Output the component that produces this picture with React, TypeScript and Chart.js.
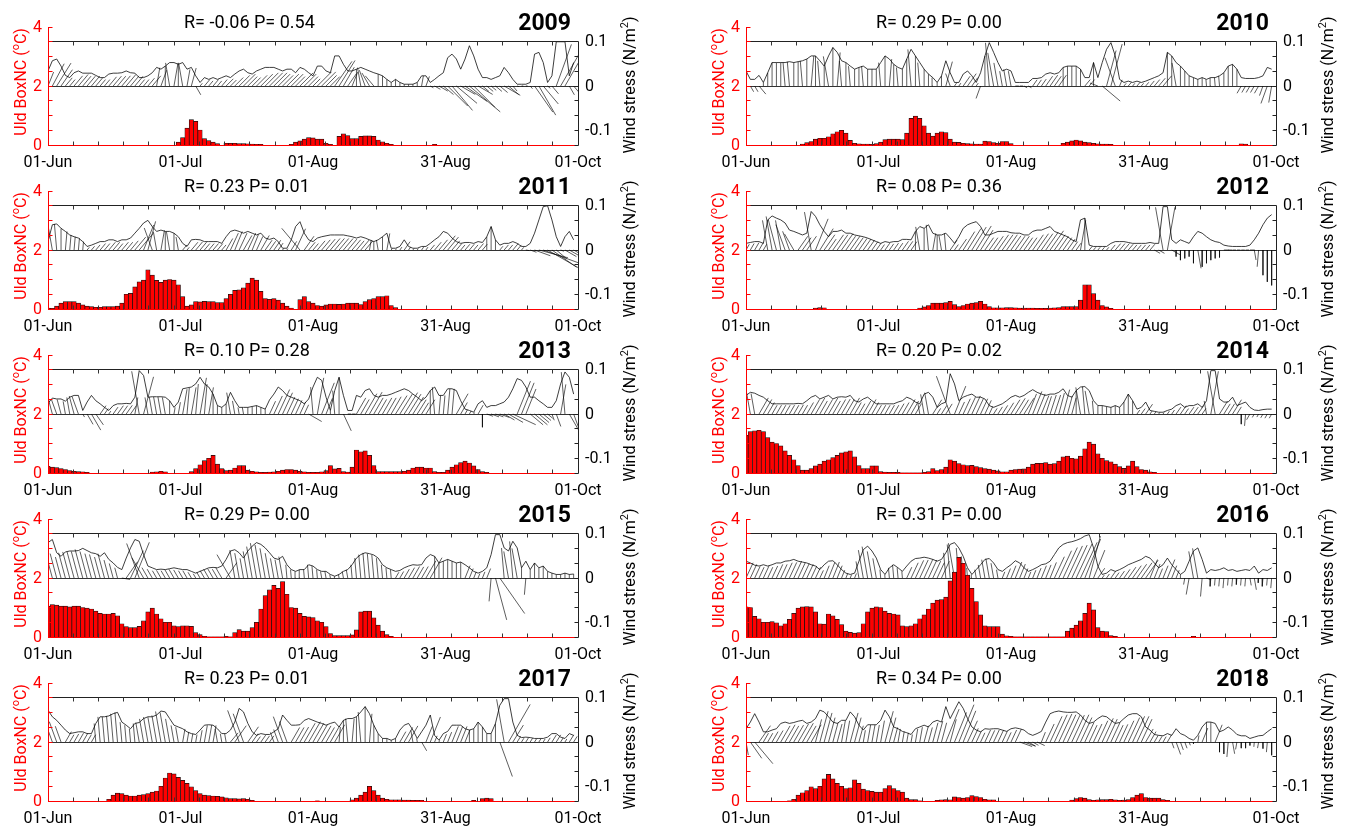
import React, { useEffect, useRef } from "react";
import { Chart, registerables } from "chart.js";

Chart.register(...registerables);

// ---------------- axis / label data ----------------
const N_DAYS = 122; // 01-Jun .. 30-Sep, daily
const dateTickDays = [0, 30.5, 61, 91.5, 122];
const dateTickLabels = ["01-Jun", "01-Jul", "01-Aug", "31-Aug", "01-Oct"];
const uiTickValues = [0, 2, 4];
const windTickValues = [-0.1, 0, 0.1];
const windTickLabels = ["-0.1", "0", "0.1"];
const years = [2009, 2010, 2011, 2012, 2013, 2014, 2015, 2016, 2017, 2018];
const statLabels = [
  "R= -0.06 P= 0.54", "R= 0.29 P= 0.00",
  "R= 0.23 P= 0.01", "R= 0.08 P= 0.36",
  "R= 0.10 P= 0.28", "R= 0.20 P= 0.02",
  "R= 0.29 P= 0.00", "R= 0.31 P= 0.00",
  "R= 0.23 P= 0.01", "R= 0.34 P= 0.00",
];

// ---------------- series data ----------------
// ui*: daily UI BoxNC (°C); tau*: wind stress magnitude (x0.01 N/m²); dir*: stress direction (deg, 90 = up)
const ui2009 = [
  0,0,0,0,0,0,0,0,0,0,
  0,0,0,0,0,0,0,0,0,0,
  0,0,0,0,0,0,0,0,0,0,
  0.1,0.25,0.57,0.86,0.8,0.51,0.22,0.15,0.1,0.05,
  0,0.06,0.06,0.06,0.05,0.05,0.04,0.03,0.02,0.02,
  0,0,0,0,0,0,0.02,0.1,0.14,0.2,
  0.25,0.24,0.2,0.2,0.06,0.02,0,0.29,0.38,0.32,
  0.22,0.22,0.29,0.31,0.31,0.29,0.17,0.11,0.06,0.02,
  0,0,0,0,0,0,0,0,0,0.02,
  0,0,0,0,0,0,0,0,0,0,
  0,0,0,0,0,0,0,0,0,0,
  0,0,0,0,0,0,0,0,0,0,
  0,0];
const tau2009 = [
  3.4,5.7,6.1,4.5,2.4,1.9,3.0,3.4,2.9,2.9,
  2.9,2.4,1.9,1.9,2.7,2.9,2.9,3.0,3.4,3.0,
  2.9,1.9,1.9,2.3,3.0,4.2,3.8,4.5,5.3,5.3,
  4.9,5.3,3.8,4.2,2.3,0.8,1.9,1.5,1.9,1.5,
  1.9,2.3,1.9,2.7,3.4,3.8,3.0,2.7,3.4,3.8,
  4.2,4.2,4.2,3.8,3.4,3.8,3.8,3.0,4.2,3.8,
  3.0,2.3,4.5,4.5,3.4,3.0,6.8,6.8,4.9,3.4,
  3.4,3.8,4.2,3.8,3.4,3.0,2.7,2.3,1.5,0.8,
  1.5,0.8,0.4,0.4,0.4,0.8,2.3,2.3,0.8,1.5,
  2.3,3.0,6.4,7.2,6.1,3.8,6.1,9.1,6.8,3.8,
  1.9,1.9,1.5,1.9,2.3,4.2,3.0,1.5,0.4,0.4,
  0.4,0.8,7.2,7.6,5.3,0.8,2.3,10,10,10,
  2.3,5.3];
const dir2009 = [
  68,62,58,55,50,50,50,50,50,50,
  50,50,50,50,50,50,50,50,50,50,
  50,50,50,50,50,80,70,90,100,80,
  90,100,80,75,-60,50,50,50,50,50,
  50,45,45,45,45,45,45,45,45,45,
  45,45,45,45,45,45,45,45,45,45,
  45,45,45,45,45,45,55,58,60,55,
  68,90,100,110,120,130,90,90,90,90,
  90,90,90,90,90,90,80,70,-30,-30,
  -30,-40,-45,-50,-40,-30,-35,-40,-45,-30,
  -40,-40,-40,-40,-40,-30,-40,-50,-20,0,
  0,-50,-55,-60,-50,-40,-50,70,60,60,
  -60,-50];

const ui2010 = [
  0,0,0,0,0,0,0,0,0,0,
  0,0,0,0.03,0.08,0.12,0.2,0.23,0.23,0.28,
  0.38,0.45,0.5,0.4,0.16,0.06,0.04,0.03,0.03,0.02,
  0.05,0.1,0.18,0.2,0.2,0.2,0.18,0.4,0.9,0.98,
  0.9,0.65,0.4,0.3,0.4,0.45,0.42,0.2,0.1,0.09,
  0.06,0.05,0.04,0.03,0.03,0.13,0.12,0.08,0.06,0.12,
  0.12,0.05,0,0,0,0,0,0,0,0,
  0,0,0,0.06,0.1,0.14,0.17,0.14,0.1,0.08,
  0.06,0.04,0.03,0.03,0.02,0,0,0,0,0,
  0,0,0,0,0,0,0,0,0,0,
  0,0,0,0,0,0,0,0,0,0,
  0,0,0,0,0.04,0.03,0,0,0,0,
  0,0];
const tau2010 = [
  3.4,1.5,1.5,2.4,0.8,3.0,5.3,5.3,5.3,5.3,
  5.5,5.3,5.5,5.7,6.1,6.8,6.8,5.7,4.5,6.8,
  8.7,7.6,5.7,5.3,4.5,3.8,4.2,4.5,3.8,3.8,
  3.8,5.3,6.8,6.1,4.9,4.2,3.8,6.1,8.3,6.8,
  5.3,3.8,2.7,1.9,0.8,2.3,5.7,3.0,0.8,0.8,
  2.7,3.4,2.3,0.8,3.0,6.8,9.8,7.6,5.3,3.4,
  3.8,3.4,0.8,0.8,0.8,0.8,1.7,1.7,1.9,2.7,
  3.0,2.7,3.0,4.2,4.5,4.5,4.5,3.8,1.9,1.9,
  5.3,1.9,5.3,8.3,9.8,6.8,1.5,0.8,1.1,0.8,
  1.1,0.8,1.1,1.5,1.9,2.3,3.0,7.6,6.8,5.3,
  4.5,3.4,2.3,1.9,1.5,1.9,1.5,1.9,1.9,2.3,
  3.0,4.5,4.9,3.8,1.9,1.7,1.7,1.7,1.9,2.3,
  4.2,3.8];
const dir2010 = [
  90,-60,-60,-50,90,90,90,90,90,95,
  95,90,90,95,90,85,90,95,90,100,
  90,85,95,90,95,90,90,95,90,90,
  90,95,90,85,90,95,90,90,95,90,
  95,90,90,95,90,90,75,110,55,55,
  55,55,55,55,-110,90,95,100,100,100,
  100,100,0,0,-30,-30,55,55,55,55,
  55,55,55,90,90,90,90,90,50,50,
  90,160,-40,75,75,110,68,50,50,50,
  50,50,50,50,50,50,50,90,90,100,
  90,90,90,90,90,90,95,95,95,95,
  90,90,90,90,-120,-120,-120,-120,-120,-110,
  -110,-100];

const ui2011 = [
  0.03,0.02,0.1,0.2,0.25,0.25,0.25,0.2,0.14,0.1,
  0.08,0.06,0.06,0.08,0.08,0.08,0.1,0.2,0.5,0.53,
  0.75,0.92,0.98,1.33,1.15,0.97,0.9,0.98,1.0,0.98,
  0.82,0.42,0.1,0.14,0.25,0.24,0.26,0.25,0.25,0.22,
  0.22,0.35,0.5,0.63,0.65,0.72,0.88,1.05,0.98,0.6,
  0.35,0.33,0.35,0.3,0.2,0.1,0.03,0,0.32,0.42,
  0.25,0.2,0.12,0.1,0.14,0.17,0.17,0.16,0.17,0.2,
  0.2,0.2,0.15,0.25,0.32,0.35,0.42,0.42,0.45,0.12,
  0.05,0,0,0,0,0,0,0,0,0,
  0,0,0,0,0,0,0,0,0,0,
  0,0,0,0,0,0,0,0,0,0,
  0,0,0,0,0,0,0,0,0,0,
  0,0];
const tau2011 = [
  1.9,5.7,5.9,4.9,4.2,3.4,3.0,2.7,1.9,0.8,
  1.1,1.5,1.9,1.9,2.3,2.3,1.9,2.3,2.3,2.7,
  3.8,4.9,6.1,6.7,5.3,4.2,4.5,4.2,4.2,3.8,
  3.0,1.5,0.8,2.3,2.4,2.3,1.9,1.9,1.9,1.9,
  1.5,3.0,4.2,4.5,4.2,3.8,4.2,3.8,3.4,3.8,
  2.7,2.4,2.7,1.9,0.4,0.4,2.3,5.3,6.4,3.8,
  2.3,1.9,2.7,3.0,3.2,3.4,3.4,3.4,3.4,3.2,
  3.0,2.7,3.0,2.7,2.3,1.9,2.3,3.0,3.8,0.4,
  0.4,0.8,2.3,0.8,0.4,0.4,0.8,0.8,1.5,2.3,
  3.0,4.2,3.8,2.7,1.9,1.5,1.7,1.7,1.5,1.9,
  1.7,3.0,5.3,2.3,1.1,1.5,1.5,1.9,1.5,0.8,
  0.8,1.5,3.8,6.8,9.8,10,6.8,3.0,0.8,3.0,
  4.2,2.3];
const dir2011 = [
  90,100,95,90,85,85,85,85,85,50,
  50,50,50,50,50,50,50,50,50,50,
  50,50,68,75,110,100,80,90,100,90,
  100,50,50,50,50,50,50,50,50,50,
  50,60,65,68,65,60,65,68,65,60,
  55,55,55,55,55,55,58,65,130,55,
  50,50,50,50,50,50,50,50,50,50,
  50,50,50,50,80,90,100,90,80,55,
  55,55,55,55,55,55,55,55,50,50,
  50,50,50,50,50,50,50,50,50,50,
  50,90,90,90,50,50,50,50,50,50,
  -10,-20,-20,-15,-20,-30,-35,-40,-20,-30,
  -30,-30];

const ui2012 = [
  0,0,0,0,0,0,0,0,0,0,
  0,0,0,0,0,0,0.03,0.05,0.04,0,
  0,0,0,0,0,0,0,0,0,0,
  0,0,0,0,0,0,0,0,0,0,
  0.03,0.07,0.12,0.2,0.2,0.2,0.22,0.26,0.15,0.08,
  0.12,0.17,0.2,0.22,0.26,0.17,0.08,0.04,0.04,0.04,
  0.05,0.05,0.04,0.03,0.03,0.03,0.03,0.02,0.02,0.02,
  0.03,0.04,0.05,0.08,0.08,0.08,0.08,0.3,0.82,0.82,
  0.52,0.3,0.12,0.07,0.02,0,0,0,0,0,
  0,0,0,0,0,0,0,0,0,0,
  0,0,0,0,0,0,0,0,0,0,
  0,0,0,0,0,0,0,0,0,0,
  0,0];
const tau2012 = [
  1.5,1.7,1.9,1.9,1.5,6.8,7.7,7.2,6.8,6.1,
  4.5,4.2,3.8,3.4,3.8,8.7,7.6,5.7,4.2,3.0,
  4.2,4.2,4.5,3.8,3.8,3.4,3.2,3.0,2.7,2.3,
  1.9,1.5,1.9,1.7,1.9,1.9,2.4,2.4,2.3,4.2,
  5.3,4.9,5.7,3.8,3.4,3.4,3.8,2.7,1.5,3.0,
  4.9,5.7,6.1,6.4,5.3,3.4,3.4,3.8,4.2,4.2,
  4.2,3.9,3.8,3.8,3.4,3.4,4.2,4.5,4.5,4.9,
  5.3,4.2,3.8,3.4,3.0,2.3,1.9,6.8,7.2,1.1,
  0.8,0.8,0.8,0.8,1.5,1.9,1.9,1.9,1.7,1.5,
  1.5,1.5,1.5,1.7,1.5,1.5,9.8,9.8,2.3,1.5,
  2.3,1.9,1.5,3.0,4.2,3.8,3.0,2.3,1.9,1.7,
  1.1,0.9,0.8,0.8,0.8,0.8,1.1,2.3,3.8,5.7,
  7.2,8.0];
const dir2012 = [
  60,60,60,60,60,100,100,105,100,110,
  110,120,55,55,55,100,68,58,55,55,
  55,55,55,55,55,55,55,55,55,55,
  55,55,55,55,55,55,55,55,55,90,
  100,90,95,80,90,100,95,55,55,55,
  58,58,58,58,58,55,55,55,55,55,
  55,55,55,55,55,55,55,55,55,55,
  55,55,55,55,55,55,55,80,90,50,
  50,50,50,50,50,50,50,50,50,50,
  50,50,50,50,-30,-30,100,80,-30,-90,
  -90,-90,-90,-90,-80,-90,-90,-90,-90,-90,
  0,0,0,0,0,0,0,-80,-95,-90,
  -90,-90];

const ui2013 = [
  0.23,0.2,0.18,0.15,0.12,0.08,0.06,0.05,0.04,0.02,
  0,0,0,0,0,0,0,0,0,0,
  0,0,0,0,0.03,0.04,0.06,0.04,0,0,
  0,0,0,0.05,0.15,0.28,0.42,0.5,0.6,0.3,
  0.15,0.08,0.1,0.17,0.25,0.25,0.1,0.06,0.04,0.02,
  0.02,0.03,0.04,0.06,0.1,0.12,0.12,0.1,0.06,0.04,
  0.02,0.02,0.02,0.04,0.08,0.25,0.14,0.16,0.05,0.03,
  0.2,0.78,0.72,0.75,0.6,0.25,0.05,0.05,0.05,0.05,
  0.05,0.05,0.06,0.1,0.17,0.2,0.2,0.17,0.17,0.05,
  0.02,0.02,0.1,0.2,0.28,0.35,0.4,0.34,0.24,0.12,
  0.05,0.02,0,0,0,0,0,0,0,0,
  0,0,0,0,0,0,0,0,0,0,
  0,0];
const tau2013 = [
  2.4,3.6,3.4,3.4,2.9,3.8,4.2,4.2,0.8,2.7,
  4.2,3.0,2.3,1.5,0.8,1.9,2.3,2.3,2.4,2.3,
  3.8,9.8,8.7,3.8,3.9,3.9,3.9,3.8,3.0,1.5,
  2.7,5.7,5.9,6.1,6.8,8.3,6.8,6.1,4.5,1.9,
  1.5,2.3,4.9,3.0,1.5,1.5,1.5,1.7,1.9,1.5,
  1.1,3.2,4.5,6.1,5.3,4.2,3.8,3.4,3.0,2.3,
  3.4,6.1,8.3,7.6,3.8,0.8,5.3,8.3,4.2,0.8,
  0.8,4.2,3.8,5.3,5.7,4.2,3.8,4.2,4.2,4.5,
  4.9,5.3,5.7,5.3,4.5,3.8,3.0,3.8,5.3,6.1,
  4.2,4.2,5.7,5.7,5.3,3.0,1.1,0.8,0.4,2.3,
  3.0,1.5,1.9,1.9,2.3,2.7,3.8,5.7,8.0,7.6,
  6.1,3.8,3.8,3.0,2.3,1.5,1.5,3.0,6.8,9.5,
  8.3,4.5];
const dir2013 = [
  100,105,110,105,100,100,105,110,-60,-60,
  -60,-55,55,55,55,55,55,55,55,55,
  80,100,75,100,100,100,100,100,90,80,
  80,80,85,80,85,80,85,80,90,90,
  90,90,100,100,100,100,90,90,90,90,
  90,65,65,65,65,65,65,65,65,65,
  -30,95,80,68,68,90,95,90,-65,0,
  0,60,60,60,60,60,60,60,60,60,
  58,58,58,58,58,58,58,58,90,95,
  85,85,85,85,60,60,60,60,60,60,
  -90,-20,-20,-20,-20,-30,-30,-25,68,68,
  68,-40,-40,-40,-40,-40,-70,-70,80,95,
  -60,-70];

const ui2014 = [
  1.28,1.4,1.43,1.45,1.4,1.2,1.05,1.0,0.92,0.75,
  0.6,0.45,0.25,0.1,0.1,0.15,0.24,0.3,0.4,0.45,
  0.52,0.6,0.68,0.72,0.75,0.55,0.25,0.15,0.15,0.24,
  0.24,0.05,0.03,0.02,0.02,0.02,0.01,0.01,0.01,0.01,
  0.01,0.02,0.05,0.15,0.08,0.12,0.2,0.45,0.4,0.32,
  0.28,0.25,0.26,0.22,0.18,0.15,0.13,0.1,0.07,0.04,
  0.04,0.1,0.12,0.13,0.14,0.2,0.3,0.33,0.33,0.35,
  0.3,0.32,0.4,0.55,0.57,0.5,0.48,0.57,0.82,1.05,
  0.98,0.65,0.5,0.42,0.38,0.3,0.22,0.16,0.24,0.4,
  0.22,0.12,0.1,0.04,0.02,0,0,0,0,0,
  0,0,0,0,0,0,0,0,0,0,
  0,0,0,0,0,0,0,0,0,0,
  0,0];
const tau2014 = [
  4.2,4.9,4.7,4.2,3.8,3.0,2.3,2.3,2.3,2.3,
  2.3,2.3,2.4,2.3,3.0,3.8,4.2,3.4,3.8,4.2,
  3.4,3.8,3.9,3.8,4.2,3.0,2.7,3.4,3.8,3.0,
  2.3,2.3,2.3,2.3,2.3,2.7,3.0,3.8,3.4,2.7,
  2.3,4.5,4.9,3.8,1.5,2.3,2.7,9.1,6.8,3.0,
  3.8,4.2,4.5,3.8,3.8,3.4,1.9,1.5,1.9,2.3,
  3.0,3.8,4.2,3.8,4.2,4.9,5.5,4.9,4.5,4.2,
  4.5,4.5,4.9,5.7,4.2,3.8,5.3,6.1,6.2,5.3,
  3.0,1.9,1.9,1.7,1.5,1.9,1.5,2.7,4.5,3.0,
  1.1,1.5,2.7,0.8,0.6,0.4,0.4,0.8,1.1,1.9,
  2.3,1.5,1.9,1.9,2.3,1.5,3.0,9.8,9.8,3.4,
  2.7,2.7,3.8,1.9,2.3,2.7,1.5,0.9,0.8,1.0,
  1.1,1.1];
const dir2014 = [
  100,100,100,60,60,60,60,60,60,60,
  60,60,60,60,60,60,60,60,60,60,
  60,60,60,60,60,60,60,60,60,60,
  60,60,60,60,60,60,60,60,60,60,
  100,100,100,58,58,58,58,110,68,65,
  65,65,65,65,65,65,65,58,58,58,
  58,58,58,58,58,68,68,68,68,72,
  72,72,75,75,75,75,90,100,95,100,
  95,90,90,90,90,90,90,90,90,90,
  55,55,55,55,55,55,55,55,55,55,
  55,55,55,55,55,55,100,80,100,58,
  58,58,58,58,-90,-95,-120,-120,-120,-120,
  -120,-120];

const ui2015 = [
  1.05,1.1,1.08,1.05,1.05,1.02,1.05,1.05,1.0,0.98,
  0.95,0.88,0.8,0.78,0.78,0.8,0.72,0.45,0.35,0.32,
  0.32,0.36,0.55,0.85,0.98,0.78,0.62,0.5,0.5,0.38,
  0.35,0.38,0.38,0.36,0.15,0.08,0.02,0.01,0.01,0.01,
  0.01,0.02,0.01,0.15,0.25,0.2,0.2,0.32,0.5,0.95,
  1.4,1.6,1.75,1.65,1.88,1.45,1.0,0.98,0.8,0.7,
  0.68,0.66,0.55,0.5,0.35,0.12,0.05,0.05,0.05,0.05,
  0.07,0.24,0.85,0.88,0.88,0.65,0.4,0.2,0.08,0.02,
  0,0,0,0,0,0,0,0,0,0,
  0,0,0,0,0,0,0,0,0,0,
  0,0,0,0,0,0,0,0,0,0,
  0,0,0,0,0,0,0,0,0,0,
  0,0];
const tau2015 = [
  8.0,8.7,5.7,4.9,5.9,6.1,6.1,6.2,6.7,6.2,
  5.7,5.5,4.9,5.7,4.2,3.4,2.4,1.9,4.5,6.8,
  8.7,8.3,5.3,2.7,2.3,1.9,2.0,1.9,2.1,2.3,
  2.1,1.9,1.9,1.5,1.1,1.5,1.9,2.3,2.4,2.3,
  2.7,4.2,6.1,6.4,5.7,4.5,6.1,7.2,8.0,7.6,
  6.8,5.7,4.5,4.2,4.9,3.0,1.9,1.5,1.9,1.9,
  3.0,2.7,1.9,1.5,1.5,0.8,0.4,0.8,1.5,1.9,
  3.0,4.5,5.3,5.7,5.5,5.2,4.5,3.0,2.3,1.9,
  1.5,1.7,2.3,2.7,3.0,2.9,3.0,4.5,5.3,4.9,
  3.4,3.8,4.2,3.8,3.4,3.6,3.0,2.3,1.5,1.1,
  1.5,2.3,5.3,9.8,9.8,6.8,6.1,8.3,6.8,2.3,
  3.8,1.9,3.4,2.3,2.7,1.5,1.1,0.8,0.8,1.1,
  0.8,0.9];
const dir2015 = [
  105,105,105,105,105,105,105,105,105,105,
  105,105,105,105,105,105,105,-10,55,65,
  68,110,120,120,120,120,120,120,120,120,
  120,120,120,120,120,120,120,120,120,120,
  120,55,120,100,100,100,100,100,100,100,
  100,100,100,100,100,95,95,95,95,95,
  95,95,95,100,100,100,100,100,100,100,
  95,95,95,95,95,95,95,95,95,95,
  60,60,60,60,60,60,60,60,60,90,
  90,90,90,90,90,90,68,68,68,68,
  68,68,-95,-75,-55,95,100,95,100,90,
  -95,90,90,90,90,90,90,90,90,90,
  90,90];

const ui2016 = [
  1.02,1.0,0.7,0.62,0.5,0.5,0.52,0.48,0.38,0.45,
  0.6,0.8,0.98,1.02,1.03,1.02,0.85,0.45,0.44,0.78,
  0.72,0.6,0.42,0.2,0.16,0.13,0.15,0.45,0.85,0.98,
  1.02,1.0,0.88,0.8,0.78,0.75,0.38,0.35,0.38,0.45,
  0.62,0.75,0.95,1.15,1.25,1.27,1.35,1.9,2.2,2.7,
  2.5,2.1,1.65,1.2,0.75,0.38,0.35,0.35,0.35,0.1,
  0.04,0.02,0.01,0.01,0.01,0.01,0.01,0.01,0.01,0.01,
  0.01,0.01,0.01,0.01,0.2,0.3,0.4,0.55,0.8,1.15,
  0.92,0.32,0.2,0.18,0.05,0.02,0,0,0,0,
  0,0,0,0,0,0,0,0,0,0,
  0,0,0,0.02,0,0,0,0,0,0,
  0,0,0,0,0,0,0,0,0,0,
  0,0];
const tau2016 = [
  3.8,3.4,2.9,2.7,3.0,2.7,3.0,3.4,3.4,3.8,
  3.9,4.2,3.8,3.6,3.4,3.0,2.7,1.9,3.0,3.8,
  3.9,3.0,1.9,1.1,0.8,1.1,3.8,6.4,7.2,6.1,
  4.5,1.9,0.8,2.3,3.0,2.3,1.5,2.7,3.8,4.4,
  4.5,4.7,4.5,4.2,3.8,4.2,5.7,7.6,8.0,6.8,
  4.9,2.3,0.8,1.9,3.0,4.2,4.4,3.4,1.9,1.5,
  2.3,3.0,3.9,3.4,2.3,1.5,1.9,2.4,3.0,3.2,
  3.8,5.3,6.8,7.6,8.0,8.2,8.5,8.9,9.5,9.8,
  6.8,2.7,0.8,1.1,1.9,1.5,1.9,2.4,3.0,3.4,
  3.8,4.2,4.9,4.5,3.4,2.3,3.0,4.5,3.0,1.9,
  0.8,1.5,3.8,6.1,6.8,4.2,1.1,1.9,1.7,1.9,
  2.3,1.7,1.9,1.5,1.7,1.9,1.7,2.7,1.1,1.9,
  1.7,2.3];
const dir2016 = [
  65,65,65,65,65,65,65,65,65,65,
  65,65,65,65,65,65,65,65,68,68,
  68,68,68,68,68,68,100,100,100,100,
  100,95,95,95,95,95,95,65,65,65,
  65,65,65,65,65,65,95,95,100,95,
  95,95,100,100,100,100,100,100,100,68,
  68,68,68,68,68,68,68,68,68,68,
  68,65,65,65,65,65,65,65,68,75,
  68,55,55,55,55,55,55,55,55,55,
  55,55,55,68,68,68,68,68,68,68,
  90,-100,-100,100,100,-95,-20,-95,-95,-95,
  -95,-95,-95,-95,-95,-95,-80,-80,-95,-95,
  -95,-95];

const ui2017 = [
  0,0,0,0,0,0,0,0,0,0,
  0,0,0,0,0.06,0.2,0.27,0.25,0.2,0.17,
  0.17,0.2,0.22,0.25,0.3,0.34,0.5,0.78,0.95,0.92,
  0.8,0.7,0.6,0.48,0.35,0.25,0.2,0.18,0.17,0.16,
  0.14,0.11,0.08,0.08,0.07,0.08,0.06,0.02,0,0,
  0,0,0,0,0,0,0,0,0,0,
  0,0,0.01,0,0,0,0,0,0,0,
  0.04,0.1,0.2,0.3,0.5,0.35,0.2,0.1,0.06,0.04,
  0.04,0.04,0.03,0.03,0.02,0.02,0.02,0,0,0,
  0,0,0,0,0,0,0,0,0.02,0,
  0.08,0.1,0.08,0,0,0,0,0,0,0,
  0,0,0,0,0,0,0,0,0,0,
  0,0];
const tau2017 = [
  7.2,5.7,4.9,3.8,2.7,1.9,2.1,2.3,2.3,1.9,
  1.9,4.2,5.7,5.7,5.9,6.4,6.7,4.5,3.8,3.0,
  4.2,4.4,5.3,5.7,5.7,6.1,7.0,6.8,5.3,3.8,
  3.4,3.0,2.3,1.9,1.7,2.7,3.8,3.9,3.8,3.0,
  1.9,1.9,2.7,4.5,7.6,6.8,4.2,2.3,1.5,1.9,
  1.7,1.7,2.3,3.0,6.1,4.9,3.8,3.8,3.9,4.9,
  5.3,4.9,4.5,4.2,3.8,4.2,4.5,3.4,4.9,5.3,
  5.3,5.7,6.8,8.0,6.4,3.8,1.9,0.8,0.8,0.4,
  0.8,2.7,3.8,4.2,2.7,0.8,2.3,3.8,6.1,1.5,
  0.4,1.9,2.4,3.8,3.8,3.8,3.0,2.7,3.0,4.5,
  3.4,1.9,1.9,4.2,8.3,9.8,9.8,4.5,1.5,1.0,
  1.1,1.0,0.8,0.8,0.8,1.1,1.9,1.9,1.1,0.8,
  1.9,1.5];
const dir2017 = [
  110,110,110,110,60,60,60,60,60,60,
  60,95,95,95,95,95,95,95,95,95,
  95,100,100,100,100,100,100,100,100,100,
  100,80,80,80,80,80,80,80,80,100,
  100,100,50,55,110,110,55,55,55,55,
  55,55,110,110,110,110,60,60,60,60,
  60,60,60,60,60,60,60,85,90,95,
  85,90,95,90,85,90,90,90,90,90,
  90,60,60,60,100,100,-60,68,68,68,
  68,68,68,68,68,68,68,90,90,90,
  90,90,90,90,-70,100,60,58,58,58,
  58,58,58,58,58,58,58,58,58,58,
  58,58];

const ui2018 = [
  0,0,0,0,0,0,0,0,0,0,
  0.01,0.06,0.2,0.28,0.35,0.48,0.42,0.5,0.75,0.9,
  0.75,0.6,0.5,0.42,0.45,0.72,0.6,0.4,0.35,0.33,
  0.3,0.3,0.42,0.52,0.42,0.35,0.3,0.1,0.05,0.05,
  0.01,0,0,0,0.02,0.04,0.05,0.04,0.14,0.12,
  0.1,0.12,0.18,0.15,0.12,0.06,0.04,0.04,0,0,
  0,0,0,0,0,0,0,0,0,0,
  0,0,0,0,0,0.03,0.08,0.12,0.1,0.05,
  0.02,0.04,0.05,0.05,0.06,0.04,0.02,0.03,0.05,0.12,
  0.2,0.25,0.12,0.1,0.1,0.1,0.05,0.02,0,0,
  0,0,0,0,0,0,0,0,0,0,
  0,0,0,0,0,0,0,0,0,0,
  0,0];
const tau2018 = [
  3.0,4.5,6.4,4.5,2.3,2.3,2.7,3.0,4.2,4.5,
  4.2,4.4,4.7,4.9,4.2,4.5,5.3,7.2,6.8,5.7,
  4.5,4.2,4.9,4.9,6.8,5.7,3.8,2.7,3.9,3.9,
  3.9,4.9,7.2,5.7,3.4,3.0,2.4,2.1,1.7,3.0,
  3.4,3.8,3.4,4.5,4.9,4.5,8.0,5.3,7.2,9.1,
  7.6,5.3,3.4,2.7,2.3,3.0,2.9,3.0,3.0,2.7,
  2.4,3.0,3.2,3.0,2.7,1.9,1.5,1.9,2.4,4.5,
  6.4,6.8,7.0,6.8,6.7,6.7,6.8,6.1,4.9,4.2,
  4.5,5.3,5.9,5.7,4.9,4.2,4.4,5.3,6.1,6.4,
  6.4,5.7,3.4,2.7,1.7,1.5,1.4,1.9,1.5,3.0,
  1.9,1.5,0.8,0.4,1.5,3.4,4.5,4.5,4.2,2.3,
  2.7,3.4,2.7,1.7,1.4,1.4,0.8,1.1,1.4,1.5,
  2.3,3.0];
const dir2018 = [
  -80,-55,-50,55,60,60,60,60,60,60,
  60,60,60,60,60,60,75,75,75,75,
  75,75,80,80,75,75,75,80,80,80,
  80,80,75,75,75,80,80,80,80,80,
  80,75,75,75,75,75,68,75,68,68,
  68,65,65,65,65,65,65,65,65,65,
  65,65,65,-20,-20,-30,-30,-25,68,65,
  65,65,65,65,65,65,65,65,65,65,
  65,65,65,65,65,65,65,65,65,65,
  65,65,60,60,60,60,60,60,-70,-70,
  -70,-70,-70,-90,80,68,90,90,68,-90,
  -90,-95,-80,-100,-90,-90,-90,-95,-100,-90,
  -95,-90];

const uiSeries = [ui2009, ui2010, ui2011, ui2012, ui2013, ui2014, ui2015, ui2016, ui2017, ui2018];
const tauSeries = [tau2009, tau2010, tau2011, tau2012, tau2013, tau2014, tau2015, tau2016, tau2017, tau2018];
const dirSeries = [dir2009, dir2010, dir2011, dir2012, dir2013, dir2014, dir2015, dir2016, dir2017, dir2018];

// ---------------- layout ----------------
const ROW_PITCH = 164;
const CANVAS_H = 172;
const PAD_TOP = 27;
const PAD_BOTTOM = 27;
const PLOT_LEFT = 48;
const PLOT_W = 530;
const PLOT_H = CANVAS_H - PAD_TOP - PAD_BOTTOM;
const COLS = [{ x: 0, w: 697, titleDx: 136 }, { x: 698, w: 659, titleDx: 130 }];
const UI_MAX = 4;
const Y2_MIN = -2 / 15;
const Y2_MAX = 2 / 15;
const FRAME_TOP_WIND = 0.1;
const MINOR_X_STEP = N_DAYS / 21;
const STICK_K = (PLOT_H / (Y2_MAX - Y2_MIN)) / (PLOT_W / N_DAYS); // days per N/m² for equal aspect
const FONT = "Roboto, 'Liberation Sans', Arial, sans-serif";
const RED = "#ff0000";

function crisp(v: number) {
  return Math.round(v - 0.5) + 0.5;
}

function seg(ctx: any, x1: number, y1: number, x2: number, y2: number) {
  ctx.beginPath();
  ctx.moveTo(x1, y1);
  ctx.lineTo(x2, y2);
  ctx.stroke();
}

function rotatedLabel(ctx: any, parts: { t: string; sup?: boolean }[], cx: number, cy: number, color: string) {
  const main = `16px ${FONT}`;
  const small = `11px ${FONT}`;
  ctx.save();
  ctx.translate(cx, cy);
  ctx.rotate(-Math.PI / 2);
  ctx.fillStyle = color;
  ctx.textBaseline = "alphabetic";
  ctx.textAlign = "left";
  let total = 0;
  const widths = parts.map((p) => {
    ctx.font = p.sup ? small : main;
    const w = ctx.measureText(p.t).width;
    total += w;
    return w;
  });
  let x = -total / 2;
  parts.forEach((p, i) => {
    ctx.font = p.sup ? small : main;
    ctx.fillText(p.t, x, p.sup ? -1 : 5.7);
    x += widths[i];
  });
  ctx.restore();
}

function makeDecor(idx: number, titleDx: number) {
  return {
    id: "decor",
    beforeDatasetsDraw(chart: any) {
      const { ctx, chartArea: a, scales } = chart;
      ctx.save();
      ctx.strokeStyle = "#333";
      ctx.lineWidth = 1;
      const yb = crisp(scales.y2.getPixelForValue(0));
      seg(ctx, a.left, yb, a.right, yb);
      ctx.restore();
    },
    afterDraw(chart: any) {
      const { ctx, chartArea: a, scales } = chart;
      const xs = scales.x, ys = scales.y, y2s = scales.y2;
      const left = crisp(a.left);
      const right = crisp(a.right);
      const y0 = crisp(ys.getPixelForValue(0));
      const yTop = crisp(y2s.getPixelForValue(FRAME_TOP_WIND));
      const y4 = crisp(ys.getPixelForValue(UI_MAX));
      ctx.save();
      ctx.lineWidth = 1;
      // frame
      ctx.strokeStyle = "#222";
      seg(ctx, a.left, yTop, a.right, yTop);
      seg(ctx, right, y0, right, yTop);
      ctx.strokeStyle = RED;
      seg(ctx, a.left, y0, a.right, y0);
      seg(ctx, left, y0, left, y4 - 0.5);
      // inward ticks
      for (let v = 0; v <= UI_MAX + 1e-9; v += 0.5) {
        const y = crisp(ys.getPixelForValue(v));
        ctx.strokeStyle = RED;
        seg(ctx, left, y, left + 4, y);
      }
      const topUi = ys.getValueForPixel(y2s.getPixelForValue(FRAME_TOP_WIND));
      for (let v = 0; v <= topUi + 1e-6; v += 0.5) {
        const y = crisp(ys.getPixelForValue(v));
        ctx.strokeStyle = "#222";
        seg(ctx, right - 4, y, right, y);
      }
      ctx.strokeStyle = "#333";
      for (let k = 1; k * MINOR_X_STEP < N_DAYS - 0.5; k++) {
        const x = crisp(xs.getPixelForValue(k * MINOR_X_STEP));
        seg(ctx, x, y0, x, y0 - 4);
        seg(ctx, x, yTop, x, yTop + 4);
      }
      // tick labels
      ctx.font = `16px ${FONT}`;
      ctx.textBaseline = "middle";
      ctx.fillStyle = RED;
      ctx.textAlign = "right";
      uiTickValues.forEach((v) => ctx.fillText(String(v), a.left - 6, ys.getPixelForValue(v) + 0.5));
      ctx.fillStyle = "#000";
      ctx.textAlign = "left";
      windTickValues.forEach((v, i) => ctx.fillText(windTickLabels[i], a.right + 7, y2s.getPixelForValue(v) + 0.5));
      ctx.textAlign = "center";
      ctx.textBaseline = "alphabetic";
      dateTickDays.forEach((d, i) => ctx.fillText(dateTickLabels[i], xs.getPixelForValue(d), a.bottom + 21.5));
      // titles
      ctx.font = `18px ${FONT}`;
      ctx.textAlign = "left";
      ctx.fillText(statLabels[idx], a.left + titleDx, a.top + 0.5);
      ctx.font = `bold 23px ${FONT}`;
      ctx.textAlign = "right";
      ctx.fillText(String(years[idx]), a.right - 7, a.top + 3);
      // axis titles
      const cy = (a.top + a.bottom) / 2;
      rotatedLabel(ctx, [{ t: "Uld BoxNC (" }, { t: "o", sup: true }, { t: "C)" }], a.left - 28, cy - 4, RED);
      rotatedLabel(ctx, [{ t: "Wind stress (N/m" }, { t: "2", sup: true }, { t: ")" }], a.right + 51, cy - 1, "#000");
      ctx.restore();
    },
  };
}

function Panel({ idx }: { idx: number }) {
  const ref = useRef<HTMLCanvasElement | null>(null);
  const col = idx % 2;
  const row = Math.floor(idx / 2);
  const geom = COLS[col];

  useEffect(() => {
    const ui = uiSeries[idx];
    const tau = tauSeries[idx];
    const dir = dirSeries[idx];
    const bars: { x: number; y: number }[] = [];
    ui.forEach((v, i) => {
      if (v > 0) bars.push({ x: i, y: v });
    });
    const magnitude = tau.map((m, i) => ({ x: i, y: m * 0.01 }));
    const sticks: { x: number; y: number | null }[] = [];
    tau.forEach((m, i) => {
      const ang = (dir[i] * Math.PI) / 180;
      const u = m * 0.01 * Math.cos(ang);
      const v = m * 0.01 * Math.sin(ang);
      sticks.push({ x: i, y: 0 }, { x: i + u * STICK_K, y: v }, { x: i, y: null });
    });

    const chart = new Chart(ref.current as HTMLCanvasElement, {
      type: "bar",
      data: {
        datasets: [
          {
            type: "bar",
            data: bars,
            xAxisID: "x",
            yAxisID: "y",
            backgroundColor: RED,
            borderColor: "#111",
            borderWidth: 0.7,
            borderSkipped: "start",
            barPercentage: 1,
            categoryPercentage: 1,
            grouped: false,
            order: 0,
          } as any,
          {
            type: "line",
            data: sticks,
            xAxisID: "x",
            yAxisID: "y2",
            borderColor: "rgba(0,0,0,0.8)",
            borderWidth: 0.8,
            pointRadius: 0,
            spanGaps: false,
            order: 1,
          } as any,
          {
            type: "line",
            data: magnitude,
            xAxisID: "x",
            yAxisID: "y2",
            borderColor: "rgba(0,0,0,0.85)",
            borderWidth: 0.9,
            pointRadius: 0,
            order: 2,
          } as any,
        ],
      },
      options: {
        responsive: false,
        animation: false,
        events: [],
        layout: {
          padding: { left: PLOT_LEFT, right: geom.w - PLOT_LEFT - PLOT_W, top: PAD_TOP, bottom: PAD_BOTTOM },
        },
        plugins: { legend: { display: false }, tooltip: { enabled: false }, title: { display: false } },
        scales: {
          x: { type: "linear", min: 0, max: N_DAYS, offset: false, display: false },
          y: { type: "linear", axis: "y", min: 0, max: UI_MAX, display: false },
          y2: { type: "linear", axis: "y", position: "right", min: Y2_MIN, max: Y2_MAX, display: false },
        },
      } as any,
      plugins: [makeDecor(idx, geom.titleDx)],
    });
    return () => chart.destroy();
  }, [idx]);

  return (
    <canvas
      ref={ref}
      width={geom.w}
      height={CANVAS_H}
      style={{ position: "absolute", left: geom.x, top: row * ROW_PITCH, width: geom.w, height: CANVAS_H }}
    />
  );
}

export default function App() {
  return (
    <div style={{ position: "absolute", left: 0, top: 0, width: 1357, height: 828, background: "#fff", overflow: "hidden" }}>
      {years.map((y, i) => (
        <Panel key={y} idx={i} />
      ))}
    </div>
  );
}
